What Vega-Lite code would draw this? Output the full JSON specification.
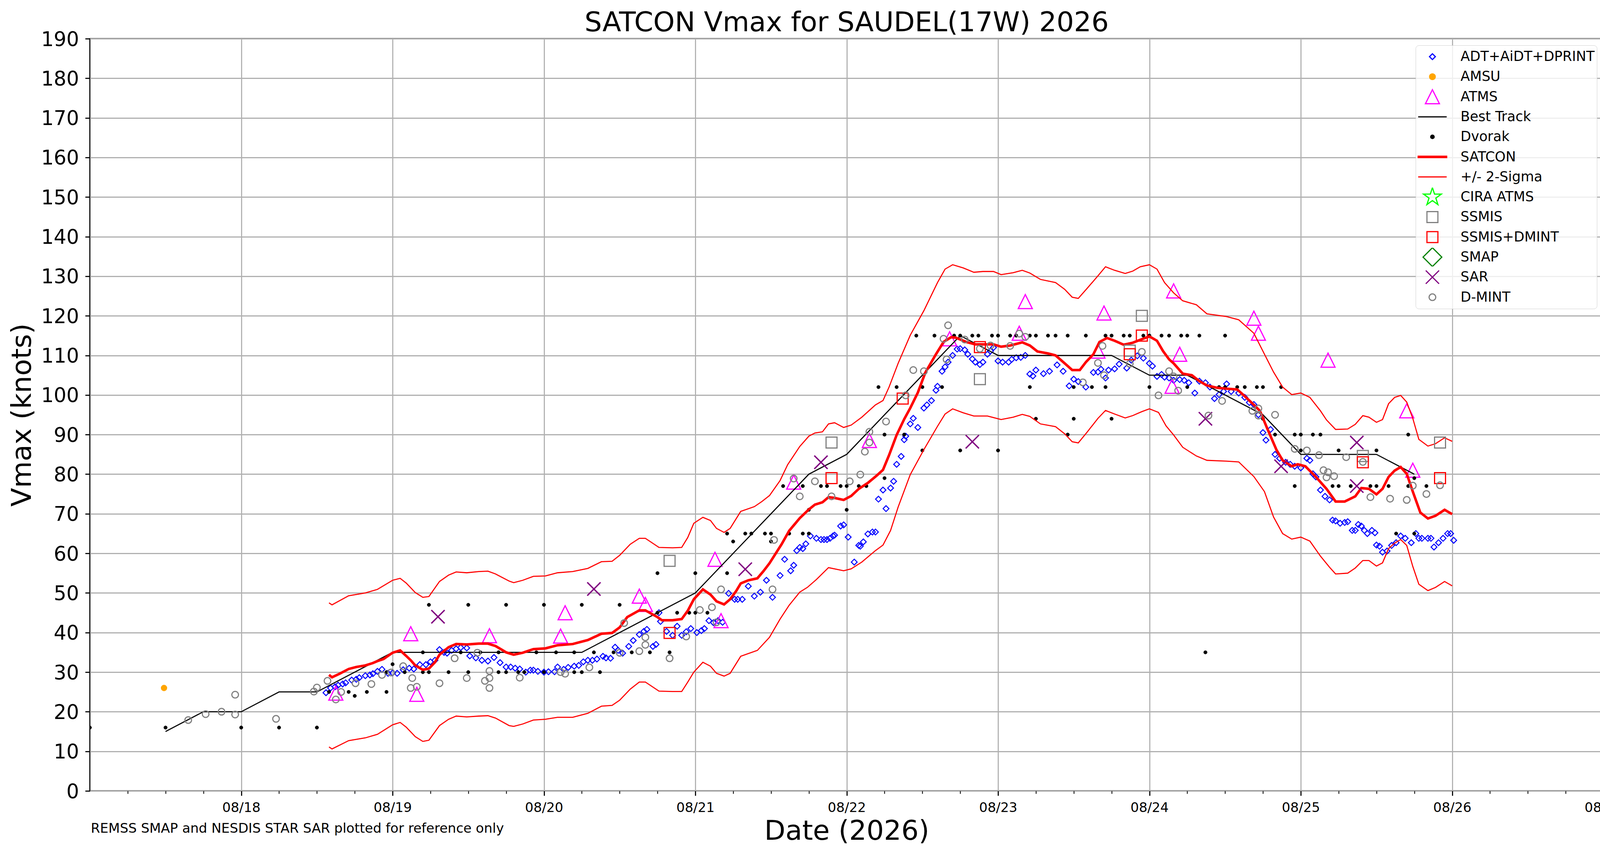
{
  "$schema": "https://vega.github.io/schema/vega-lite/v6.json",
  "width": 3875,
  "height": 1925,
  "autosize": {"type": "none"},
  "padding": {"left": 230, "top": 99, "right": 74, "bottom": 164},
  "background": "white",
  "title": {
    "text": "SATCON Vmax for SAUDEL(17W) 2026",
    "font": "DejaVu Sans", "fontSize": 70, "fontWeight": "normal", "color": "#000000",
    "anchor": "middle", "frame": "group", "offset": 5, "dy": 24
  },
  "config": {
    "font": "DejaVu Sans",
    "view": {"stroke": "#000000", "strokeWidth": 2.8},
    "axis": {
      "domain": false, "grid": true, "gridColor": "#b0b0b0", "gridWidth": 2.8,
      "tickColor": "#000000", "tickWidth": 2.8, "tickSize": 12,
      "labelColor": "#000000", "labelFont": "DejaVu Sans",
      "titleFont": "DejaVu Sans", "titleFontWeight": "normal", "titleColor": "#000000", "titleFontSize": 70,
      "labelOverlap": false, "labelFlush": false, "labelBound": false
    },
    "axisX": {"labelFontSize": 34, "labelPadding": 14, "labelAlign": "center"},
    "axisY": {"labelFontSize": 51, "labelPadding": 16},
    "legend": {
      "orient": "top-right", "offset": 17, "padding": 5,
      "fillColor": "rgba(255,255,255,0.8)", "strokeColor": "#d0d0d0", "cornerRadius": 8,
      "labelFont": "DejaVu Sans", "labelFontSize": 35, "labelColor": "#000000", "labelOffset": 34, "labelLimit": 2000,
      "rowPadding": 3.3, "symbolSize": 5329, "symbolStrokeWidth": 3, "clipHeight": 48, "title": null
    }
  },
  "datasets": {
    "adt": [
      {"d":18.56,"v":24.8},{"d":18.59,"v":26},{"d":18.62,"v":26.3},{"d":18.64,"v":26.7},{"d":18.67,"v":27},{"d":18.69,"v":27.3},{"d":18.73,"v":28},{"d":18.76,"v":28.2},{"d":18.78,"v":28.6},{"d":18.82,"v":29.1},{"d":18.85,"v":29.3},{"d":18.87,"v":29.6},{"d":18.9,"v":30.2},{"d":18.93,"v":30.7},{"d":18.97,"v":29.7},{"d":19.0,"v":29.8},{"d":19.03,"v":29.7},{"d":19.07,"v":30.6},{"d":19.11,"v":31},{"d":19.14,"v":30.8},{"d":19.18,"v":31.9},{"d":19.22,"v":31.9},{"d":19.25,"v":32.6},{"d":19.28,"v":33},{"d":19.31,"v":35.7},{"d":19.34,"v":35},{"d":19.36,"v":34.8},{"d":19.39,"v":35.5},{"d":19.42,"v":35.9},{"d":19.45,"v":36.2},{"d":19.49,"v":36.1},{"d":19.51,"v":34.1},{"d":19.55,"v":33.6},{"d":19.59,"v":33},{"d":19.63,"v":32.8},{"d":19.67,"v":33.7},{"d":19.71,"v":32.4},{"d":19.75,"v":31.3},{"d":19.78,"v":31.3},{"d":19.81,"v":31},{"d":19.84,"v":30.8},{"d":19.88,"v":30},{"d":19.91,"v":30.5},{"d":19.93,"v":30.5},{"d":19.96,"v":30.2},{"d":20.0,"v":30},{"d":20.03,"v":30.1},{"d":20.07,"v":30.1},{"d":20.09,"v":31.3},{"d":20.13,"v":30.7},{"d":20.16,"v":31.2},{"d":20.2,"v":31.5},{"d":20.23,"v":31.7},{"d":20.26,"v":32.6},{"d":20.29,"v":33},{"d":20.32,"v":33},{"d":20.35,"v":33.3},{"d":20.39,"v":34},{"d":20.41,"v":33.6},{"d":20.44,"v":33.5},{"d":20.47,"v":36.3},{"d":20.49,"v":35.5},{"d":20.52,"v":34.8},{"d":20.56,"v":36.5},{"d":20.59,"v":38},{"d":20.63,"v":39.5},{"d":20.66,"v":40.3},{"d":20.68,"v":40.8},{"d":20.72,"v":36.5},{"d":20.74,"v":37},{"d":20.76,"v":45},{"d":20.77,"v":42.8},{"d":20.81,"v":40.3},{"d":20.85,"v":39.3},{"d":20.88,"v":41.6},{"d":20.91,"v":39.3},{"d":20.94,"v":40.2},{"d":20.97,"v":41},{"d":21.01,"v":40},{"d":21.04,"v":40.5},{"d":21.06,"v":41},{"d":21.09,"v":43},{"d":21.12,"v":42.5},{"d":21.15,"v":43},{"d":21.18,"v":42.6},{"d":21.22,"v":49.9},{"d":21.26,"v":48.4},{"d":21.28,"v":48.4},{"d":21.31,"v":48.4},{"d":21.35,"v":51.7},{"d":21.39,"v":49.2},{"d":21.43,"v":50.2},{"d":21.47,"v":53.2},{"d":21.51,"v":48.9},{"d":21.56,"v":54.4},{"d":21.59,"v":58.5},{"d":21.63,"v":55.6},{"d":21.65,"v":57},{"d":21.67,"v":60.7},{"d":21.69,"v":61.5},{"d":21.71,"v":61.2},{"d":21.73,"v":62.4},{"d":21.76,"v":64.4},{"d":21.8,"v":63.8},{"d":21.83,"v":63.5},{"d":21.85,"v":63.5},{"d":21.87,"v":63.5},{"d":21.89,"v":63.8},{"d":21.91,"v":64.4},{"d":21.92,"v":64.6},{"d":21.96,"v":66.9},{"d":21.98,"v":67.2},{"d":22.01,"v":64.1},{"d":22.05,"v":57.8},{"d":22.08,"v":62},{"d":22.09,"v":61.8},{"d":22.11,"v":62.9},{"d":22.14,"v":64.9},{"d":22.17,"v":65.4},{"d":22.19,"v":65.4},{"d":22.21,"v":73.7},{"d":22.24,"v":76},{"d":22.26,"v":71.3},{"d":22.29,"v":76.5},{"d":22.31,"v":78.2},{"d":22.33,"v":82.5},{"d":22.36,"v":84.5},{"d":22.38,"v":88.7},{"d":22.39,"v":89.6},{"d":22.42,"v":92.7},{"d":22.44,"v":94.1},{"d":22.47,"v":91.8},{"d":22.51,"v":96.7},{"d":22.53,"v":97.5},{"d":22.56,"v":98.6},{"d":22.59,"v":101.2},{"d":22.6,"v":102.2},{"d":22.63,"v":106},{"d":22.65,"v":107.1},{"d":22.67,"v":108.3},{"d":22.7,"v":110},{"d":22.73,"v":111.6},{"d":22.75,"v":111.7},{"d":22.78,"v":111.4},{"d":22.8,"v":110.3},{"d":22.83,"v":109.1},{"d":22.85,"v":108.3},{"d":22.88,"v":107.7},{"d":22.9,"v":108.3},{"d":22.93,"v":110.3},{"d":22.95,"v":111.1},{"d":22.97,"v":112},{"d":23.0,"v":108.6},{"d":23.03,"v":108.3},{"d":23.07,"v":108.3},{"d":23.09,"v":109},{"d":23.12,"v":109.4},{"d":23.15,"v":109.5},{"d":23.18,"v":110},{"d":23.21,"v":105.3},{"d":23.23,"v":104.8},{"d":23.25,"v":106.3},{"d":23.3,"v":105.4},{"d":23.34,"v":106},{"d":23.39,"v":107.6},{"d":23.43,"v":106},{"d":23.47,"v":102.3},{"d":23.5,"v":104},{"d":23.53,"v":103.4},{"d":23.58,"v":102},{"d":23.63,"v":105.7},{"d":23.66,"v":105.8},{"d":23.68,"v":106.5},{"d":23.71,"v":104.3},{"d":23.73,"v":106.3},{"d":23.77,"v":106.6},{"d":23.8,"v":107.8},{"d":23.85,"v":106.8},{"d":23.88,"v":108.8},{"d":23.92,"v":109.9},{"d":23.96,"v":109.3},{"d":24.0,"v":108},{"d":24.02,"v":107.3},{"d":24.05,"v":104.7},{"d":24.08,"v":105.2},{"d":24.1,"v":104.5},{"d":24.13,"v":104.3},{"d":24.16,"v":103.7},{"d":24.2,"v":103.9},{"d":24.23,"v":103.7},{"d":24.26,"v":103.1},{"d":24.3,"v":100.5},{"d":24.33,"v":103.5},{"d":24.37,"v":103.1},{"d":24.4,"v":102},{"d":24.43,"v":99.1},{"d":24.46,"v":100.1},{"d":24.49,"v":100.9},{"d":24.51,"v":102.8},{"d":24.54,"v":100.9},{"d":24.59,"v":100.5},{"d":24.63,"v":99.4},{"d":24.66,"v":98.1},{"d":24.69,"v":97.6},{"d":24.72,"v":95},{"d":24.75,"v":90.5},{"d":24.77,"v":88.6},{"d":24.8,"v":91.3},{"d":24.83,"v":85},{"d":24.86,"v":84},{"d":24.9,"v":83},{"d":24.93,"v":82.5},{"d":24.96,"v":82},{"d":25.0,"v":81.6},{"d":25.04,"v":84},{"d":25.06,"v":83.5},{"d":25.08,"v":80.1},{"d":25.1,"v":79.3},{"d":25.13,"v":76},{"d":25.16,"v":74.4},{"d":25.19,"v":73.5},{"d":25.21,"v":68.4},{"d":25.23,"v":68.2},{"d":25.26,"v":67.6},{"d":25.29,"v":67.8},{"d":25.31,"v":68},{"d":25.34,"v":65.8},{"d":25.36,"v":65.8},{"d":25.38,"v":67.3},{"d":25.4,"v":66.9},{"d":25.42,"v":65.8},{"d":25.44,"v":65},{"d":25.47,"v":65.8},{"d":25.49,"v":65.2},{"d":25.5,"v":62.1},{"d":25.52,"v":61.8},{"d":25.54,"v":60.3},{"d":25.57,"v":60.6},{"d":25.6,"v":62},{"d":25.63,"v":62.7},{"d":25.66,"v":64.4},{"d":25.69,"v":63.8},{"d":25.73,"v":62.7},{"d":25.76,"v":65},{"d":25.78,"v":63.8},{"d":25.8,"v":63.8},{"d":25.84,"v":63.8},{"d":25.86,"v":63.8},{"d":25.88,"v":61.6},{"d":25.91,"v":62.7},{"d":25.94,"v":63.8},{"d":25.97,"v":65},{"d":25.99,"v":65},{"d":26.01,"v":63.3}
    ],
    "amsu": [{"d":17.49,"v":26}],
    "atms": [
      {"d":18.625,"v":24.7},{"d":19.12,"v":39.7},{"d":19.16,"v":24.4},{"d":19.64,"v":39.2},{"d":20.11,"v":39.1},{"d":20.14,"v":45},{"d":20.63,"v":49.2},{"d":20.67,"v":47.1},{"d":21.13,"v":58.5},{"d":21.17,"v":43},{"d":21.65,"v":78},{"d":22.15,"v":88.5},{"d":22.68,"v":114.2},{"d":23.14,"v":115.6},{"d":23.18,"v":123.6},{"d":23.66,"v":111.1},{"d":23.7,"v":120.7},{"d":24.15,"v":102.2},{"d":24.16,"v":126.3},{"d":24.2,"v":110.3},{"d":24.69,"v":119.4},{"d":24.72,"v":115.6},{"d":25.18,"v":108.8},{"d":25.7,"v":96},{"d":25.74,"v":81}
    ],
    "best": [
      {"d":17.5,"v":15},{"d":17.75,"v":20},{"d":18.0,"v":20},{"d":18.25,"v":25},{"d":18.5,"v":25},{"d":18.75,"v":30},{"d":19.0,"v":35},{"d":19.25,"v":35},{"d":19.5,"v":35},{"d":19.75,"v":35},{"d":20.0,"v":35},{"d":20.25,"v":35},{"d":20.5,"v":40},{"d":20.75,"v":45},{"d":21.0,"v":50},{"d":21.25,"v":60},{"d":21.5,"v":70},{"d":21.75,"v":80},{"d":22.0,"v":85},{"d":22.25,"v":95},{"d":22.5,"v":105},{"d":22.75,"v":115},{"d":23.0,"v":110},{"d":23.25,"v":110},{"d":23.5,"v":110},{"d":23.75,"v":110},{"d":24.0,"v":105},{"d":24.25,"v":105},{"d":24.5,"v":100},{"d":24.75,"v":95},{"d":25.0,"v":85},{"d":25.25,"v":85},{"d":25.5,"v":85},{"d":25.75,"v":80}
    ],
    "dvorak": [
      {"d":17.0,"v":16},{"d":17.5,"v":16},{"d":18.0,"v":16},{"d":18.25,"v":16},{"d":18.5,"v":16},{"d":18.58,"v":25},{"d":18.71,"v":25},{"d":18.75,"v":24},{"d":18.83,"v":25},{"d":18.96,"v":25},{"d":18.96,"v":30},{"d":19.0,"v":32},{"d":19.08,"v":30},{"d":19.2,"v":30},{"d":19.2,"v":35},{"d":19.24,"v":30},{"d":19.24,"v":47},{"d":19.37,"v":30},{"d":19.45,"v":35},{"d":19.5,"v":30},{"d":19.5,"v":47},{"d":19.58,"v":35},{"d":19.7,"v":35},{"d":19.7,"v":30},{"d":19.75,"v":30},{"d":19.75,"v":47},{"d":19.83,"v":30},{"d":19.87,"v":30},{"d":19.95,"v":35},{"d":20.0,"v":47},{"d":20.0,"v":30},{"d":20.08,"v":35},{"d":20.2,"v":35},{"d":20.2,"v":30},{"d":20.25,"v":30},{"d":20.25,"v":47},{"d":20.33,"v":35},{"d":20.37,"v":30},{"d":20.46,"v":35},{"d":20.5,"v":47},{"d":20.58,"v":35},{"d":20.7,"v":35},{"d":20.75,"v":55},{"d":20.75,"v":45},{"d":20.83,"v":35},{"d":20.88,"v":45},{"d":20.96,"v":45},{"d":21.0,"v":55},{"d":21.0,"v":45},{"d":21.08,"v":45},{"d":21.21,"v":55},{"d":21.21,"v":65},{"d":21.25,"v":63},{"d":21.33,"v":65},{"d":21.37,"v":65},{"d":21.46,"v":65},{"d":21.5,"v":65},{"d":21.5,"v":63},{"d":21.58,"v":77},{"d":21.62,"v":65},{"d":21.71,"v":65},{"d":21.71,"v":77},{"d":21.75,"v":65},{"d":21.75,"v":71},{"d":21.83,"v":77},{"d":21.87,"v":77},{"d":21.96,"v":77},{"d":22.0,"v":77},{"d":22.0,"v":71},{"d":22.08,"v":77},{"d":22.13,"v":77},{"d":22.21,"v":102},{"d":22.25,"v":90},{"d":22.25,"v":79},{"d":22.33,"v":102},{"d":22.38,"v":90},{"d":22.46,"v":115},{"d":22.5,"v":102},{"d":22.5,"v":86},{"d":22.58,"v":115},{"d":22.63,"v":102},{"d":22.71,"v":115},{"d":22.75,"v":115},{"d":22.75,"v":86},{"d":22.83,"v":115},{"d":22.87,"v":115},{"d":22.96,"v":115},{"d":23.0,"v":115},{"d":23.0,"v":86},{"d":23.08,"v":115},{"d":23.12,"v":115},{"d":23.21,"v":115},{"d":23.21,"v":102},{"d":23.25,"v":115},{"d":23.25,"v":94},{"d":23.33,"v":115},{"d":23.38,"v":115},{"d":23.46,"v":115},{"d":23.46,"v":90},{"d":23.5,"v":102},{"d":23.5,"v":94},{"d":23.58,"v":115},{"d":23.62,"v":102},{"d":23.71,"v":115},{"d":23.71,"v":102},{"d":23.75,"v":115},{"d":23.75,"v":94},{"d":23.83,"v":115},{"d":23.87,"v":115},{"d":23.96,"v":115},{"d":24.0,"v":115},{"d":24.0,"v":102},{"d":24.08,"v":115},{"d":24.13,"v":115},{"d":24.21,"v":115},{"d":24.25,"v":115},{"d":24.25,"v":102},{"d":24.33,"v":115},{"d":24.37,"v":35},{"d":24.46,"v":102},{"d":24.5,"v":115},{"d":24.5,"v":102},{"d":24.58,"v":102},{"d":24.63,"v":102},{"d":24.71,"v":102},{"d":24.75,"v":102},{"d":24.75,"v":94},{"d":24.83,"v":90},{"d":24.87,"v":102},{"d":24.96,"v":90},{"d":24.96,"v":77},{"d":25.0,"v":90},{"d":25.0,"v":86},{"d":25.08,"v":90},{"d":25.13,"v":90},{"d":25.21,"v":77},{"d":25.25,"v":86},{"d":25.25,"v":77},{"d":25.33,"v":77},{"d":25.46,"v":77},{"d":25.5,"v":86},{"d":25.5,"v":77},{"d":25.58,"v":77},{"d":25.63,"v":65},{"d":25.71,"v":90},{"d":25.71,"v":77},{"d":25.75,"v":79},{"d":25.75,"v":65},{"d":25.83,"v":77}
    ],
    "satcon": [
      {"d":18.58,"v":29.3},{"d":18.6,"v":28.7},{"d":18.65,"v":29.6},{"d":18.71,"v":30.8},{"d":18.76,"v":31.3},{"d":18.82,"v":31.7},{"d":18.87,"v":32.3},{"d":18.9,"v":32.8},{"d":18.94,"v":33.3},{"d":19.0,"v":34.9},{"d":19.05,"v":35.5},{"d":19.09,"v":34.1},{"d":19.12,"v":33},{"d":19.15,"v":31.7},{"d":19.2,"v":30.6},{"d":19.24,"v":30.9},{"d":19.28,"v":32.5},{"d":19.31,"v":34.4},{"d":19.37,"v":36.3},{"d":19.42,"v":37.1},{"d":19.49,"v":37},{"d":19.57,"v":37.2},{"d":19.63,"v":37.2},{"d":19.68,"v":36.6},{"d":19.75,"v":35},{"d":19.8,"v":34.4},{"d":19.86,"v":34.9},{"d":19.93,"v":35.8},{"d":20.01,"v":36},{"d":20.09,"v":36.8},{"d":20.19,"v":37.1},{"d":20.29,"v":38.1},{"d":20.38,"v":39.7},{"d":20.45,"v":39.9},{"d":20.5,"v":41.3},{"d":20.55,"v":43.9},{"d":20.63,"v":45.6},{"d":20.67,"v":45.6},{"d":20.75,"v":43.9},{"d":20.78,"v":43.1},{"d":20.85,"v":43.1},{"d":20.91,"v":43.4},{"d":20.95,"v":45.5},{"d":20.99,"v":48.4},{"d":21.05,"v":50.9},{"d":21.1,"v":49.6},{"d":21.14,"v":47.9},{"d":21.19,"v":47.1},{"d":21.23,"v":48.4},{"d":21.27,"v":50.5},{"d":21.3,"v":52.4},{"d":21.35,"v":53.2},{"d":21.41,"v":53.7},{"d":21.45,"v":55.5},{"d":21.49,"v":57.5},{"d":21.54,"v":60.5},{"d":21.57,"v":62.3},{"d":21.62,"v":65.7},{"d":21.69,"v":68.9},{"d":21.75,"v":71.1},{"d":21.79,"v":72.3},{"d":21.84,"v":72.9},{"d":21.88,"v":74.2},{"d":21.92,"v":74},{"d":21.98,"v":73.5},{"d":22.03,"v":74.5},{"d":22.08,"v":76.3},{"d":22.14,"v":77.8},{"d":22.2,"v":79.7},{"d":22.24,"v":81.1},{"d":22.28,"v":84.8},{"d":22.33,"v":89.9},{"d":22.38,"v":93.9},{"d":22.42,"v":96.7},{"d":22.47,"v":100.6},{"d":22.52,"v":105.7},{"d":22.59,"v":110.3},{"d":22.64,"v":113.4},{"d":22.69,"v":114.6},{"d":22.72,"v":114.5},{"d":22.79,"v":113.4},{"d":22.85,"v":112.8},{"d":22.92,"v":112.8},{"d":22.97,"v":112.8},{"d":23.02,"v":112.2},{"d":23.08,"v":112.5},{"d":23.16,"v":113.3},{"d":23.21,"v":112.5},{"d":23.26,"v":111},{"d":23.33,"v":110.5},{"d":23.38,"v":110},{"d":23.44,"v":108},{"d":23.49,"v":106.3},{"d":23.54,"v":106.3},{"d":23.58,"v":108.3},{"d":23.63,"v":110.3},{"d":23.67,"v":113.4},{"d":23.72,"v":114.4},{"d":23.77,"v":113.7},{"d":23.83,"v":112.7},{"d":23.89,"v":113.2},{"d":23.95,"v":114.1},{"d":24.0,"v":114.8},{"d":24.05,"v":113.7},{"d":24.09,"v":111.1},{"d":24.13,"v":109},{"d":24.16,"v":108},{"d":24.22,"v":105.4},{"d":24.28,"v":105},{"d":24.33,"v":103.5},{"d":24.38,"v":102.4},{"d":24.45,"v":101.8},{"d":24.51,"v":101.6},{"d":24.58,"v":101.4},{"d":24.63,"v":99.7},{"d":24.69,"v":97.5},{"d":24.73,"v":96},{"d":24.78,"v":91.4},{"d":24.84,"v":86.1},{"d":24.88,"v":83.5},{"d":24.94,"v":82},{"d":24.98,"v":82.5},{"d":25.03,"v":82},{"d":25.1,"v":79.3},{"d":25.17,"v":76.3},{"d":25.23,"v":73.1},{"d":25.29,"v":73.1},{"d":25.36,"v":74.4},{"d":25.4,"v":76.5},{"d":25.45,"v":76.3},{"d":25.5,"v":74.9},{"d":25.54,"v":76.3},{"d":25.58,"v":79.3},{"d":25.62,"v":80.9},{"d":25.66,"v":81.8},{"d":25.7,"v":80.1},{"d":25.74,"v":75.6},{"d":25.79,"v":70.3},{"d":25.84,"v":68.8},{"d":25.89,"v":69.5},{"d":25.95,"v":71},{"d":26.0,"v":69.9}
    ],
    "sigma": [
      {"side":"hi","d":18.58,"v":47.5},{"side":"hi","d":18.6,"v":47},{"side":"hi","d":18.71,"v":49.3},{"side":"hi","d":18.82,"v":50},{"side":"hi","d":18.9,"v":50.9},{"side":"hi","d":19.0,"v":53.2},{"side":"hi","d":19.05,"v":53.7},{"side":"hi","d":19.09,"v":52.5},{"side":"hi","d":19.15,"v":50.1},{"side":"hi","d":19.2,"v":48.9},{"side":"hi","d":19.24,"v":49.1},{"side":"hi","d":19.31,"v":52.9},{"side":"hi","d":19.37,"v":54.5},{"side":"hi","d":19.42,"v":55.3},{"side":"hi","d":19.49,"v":55.1},{"side":"hi","d":19.57,"v":55.4},{"side":"hi","d":19.63,"v":55.5},{"side":"hi","d":19.68,"v":54.8},{"side":"hi","d":19.77,"v":53},{"side":"hi","d":19.8,"v":52.6},{"side":"hi","d":19.86,"v":53.2},{"side":"hi","d":19.93,"v":54.2},{"side":"hi","d":20.01,"v":54.3},{"side":"hi","d":20.09,"v":55.1},{"side":"hi","d":20.19,"v":55.4},{"side":"hi","d":20.29,"v":56.2},{"side":"hi","d":20.38,"v":57.9},{"side":"hi","d":20.45,"v":58},{"side":"hi","d":20.5,"v":59.5},{"side":"hi","d":20.57,"v":62.3},{"side":"hi","d":20.63,"v":63.8},{"side":"hi","d":20.67,"v":63.8},{"side":"hi","d":20.76,"v":61.5},{"side":"hi","d":20.85,"v":61.4},{"side":"hi","d":20.91,"v":61.5},{"side":"hi","d":20.95,"v":64},{"side":"hi","d":20.99,"v":67.6},{"side":"hi","d":21.05,"v":69.1},{"side":"hi","d":21.1,"v":68.3},{"side":"hi","d":21.14,"v":66.3},{"side":"hi","d":21.19,"v":65.3},{"side":"hi","d":21.23,"v":66.3},{"side":"hi","d":21.3,"v":70.6},{"side":"hi","d":21.39,"v":71.8},{"side":"hi","d":21.44,"v":73.1},{"side":"hi","d":21.49,"v":74.6},{"side":"hi","d":21.56,"v":78.4},{"side":"hi","d":21.61,"v":82.4},{"side":"hi","d":21.69,"v":87},{"side":"hi","d":21.75,"v":89.6},{"side":"hi","d":21.79,"v":90.4},{"side":"hi","d":21.84,"v":90.7},{"side":"hi","d":21.88,"v":92.7},{"side":"hi","d":21.92,"v":93},{"side":"hi","d":21.98,"v":91.8},{"side":"hi","d":22.03,"v":92.4},{"side":"hi","d":22.1,"v":94.4},{"side":"hi","d":22.19,"v":97.5},{"side":"hi","d":22.24,"v":98.6},{"side":"hi","d":22.28,"v":102},{"side":"hi","d":22.34,"v":108},{"side":"hi","d":22.42,"v":115.1},{"side":"hi","d":22.51,"v":121.3},{"side":"hi","d":22.6,"v":128.4},{"side":"hi","d":22.65,"v":131.8},{"side":"hi","d":22.7,"v":132.9},{"side":"hi","d":22.77,"v":132.1},{"side":"hi","d":22.84,"v":131},{"side":"hi","d":22.9,"v":131.2},{"side":"hi","d":22.97,"v":131.2},{"side":"hi","d":23.02,"v":130.4},{"side":"hi","d":23.1,"v":130.9},{"side":"hi","d":23.16,"v":131.5},{"side":"hi","d":23.21,"v":130.8},{"side":"hi","d":23.28,"v":129.2},{"side":"hi","d":23.38,"v":128.4},{"side":"hi","d":23.44,"v":126.7},{"side":"hi","d":23.49,"v":124.7},{"side":"hi","d":23.53,"v":124.4},{"side":"hi","d":23.59,"v":127},{"side":"hi","d":23.66,"v":130.1},{"side":"hi","d":23.71,"v":132.4},{"side":"hi","d":23.77,"v":131.5},{"side":"hi","d":23.84,"v":130.7},{"side":"hi","d":23.89,"v":131.3},{"side":"hi","d":23.94,"v":132.4},{"side":"hi","d":24.0,"v":132.9},{"side":"hi","d":24.05,"v":131.8},{"side":"hi","d":24.1,"v":128.4},{"side":"hi","d":24.16,"v":125.8},{"side":"hi","d":24.22,"v":123.8},{"side":"hi","d":24.31,"v":122.8},{"side":"hi","d":24.38,"v":120.5},{"side":"hi","d":24.51,"v":119.8},{"side":"hi","d":24.59,"v":119},{"side":"hi","d":24.69,"v":115.6},{"side":"hi","d":24.76,"v":110.3},{"side":"hi","d":24.82,"v":105.8},{"side":"hi","d":24.88,"v":102},{"side":"hi","d":24.94,"v":100.1},{"side":"hi","d":25.0,"v":100.5},{"side":"hi","d":25.06,"v":99.4},{"side":"hi","d":25.13,"v":96},{"side":"hi","d":25.17,"v":93.7},{"side":"hi","d":25.23,"v":91.3},{"side":"hi","d":25.31,"v":91.4},{"side":"hi","d":25.36,"v":92.6},{"side":"hi","d":25.41,"v":94.8},{"side":"hi","d":25.45,"v":94.4},{"side":"hi","d":25.5,"v":93.1},{"side":"hi","d":25.54,"v":93.8},{"side":"hi","d":25.58,"v":97.8},{"side":"hi","d":25.62,"v":99.4},{"side":"hi","d":25.66,"v":99.9},{"side":"hi","d":25.7,"v":98.2},{"side":"hi","d":25.74,"v":94.1},{"side":"hi","d":25.78,"v":88.8},{"side":"hi","d":25.84,"v":87.1},{"side":"hi","d":25.89,"v":87.7},{"side":"hi","d":25.95,"v":89.2},{"side":"hi","d":26.0,"v":88.3},
      {"side":"lo","d":18.58,"v":11.1},{"side":"lo","d":18.6,"v":10.6},{"side":"lo","d":18.71,"v":12.7},{"side":"lo","d":18.82,"v":13.4},{"side":"lo","d":18.9,"v":14.3},{"side":"lo","d":19.0,"v":16.7},{"side":"lo","d":19.05,"v":17.3},{"side":"lo","d":19.09,"v":16.1},{"side":"lo","d":19.15,"v":13.7},{"side":"lo","d":19.2,"v":12.5},{"side":"lo","d":19.24,"v":12.8},{"side":"lo","d":19.31,"v":16.5},{"side":"lo","d":19.37,"v":18.1},{"side":"lo","d":19.42,"v":18.9},{"side":"lo","d":19.49,"v":18.7},{"side":"lo","d":19.57,"v":18.9},{"side":"lo","d":19.63,"v":19},{"side":"lo","d":19.68,"v":18.4},{"side":"lo","d":19.77,"v":16.5},{"side":"lo","d":19.8,"v":16.3},{"side":"lo","d":19.86,"v":16.9},{"side":"lo","d":19.93,"v":17.9},{"side":"lo","d":20.01,"v":18.1},{"side":"lo","d":20.09,"v":18.6},{"side":"lo","d":20.19,"v":18.6},{"side":"lo","d":20.29,"v":19.6},{"side":"lo","d":20.38,"v":21.4},{"side":"lo","d":20.45,"v":21.6},{"side":"lo","d":20.5,"v":22.9},{"side":"lo","d":20.57,"v":25.7},{"side":"lo","d":20.63,"v":27.5},{"side":"lo","d":20.67,"v":27.5},{"side":"lo","d":20.76,"v":25.2},{"side":"lo","d":20.85,"v":25.1},{"side":"lo","d":20.91,"v":25.1},{"side":"lo","d":20.95,"v":27.5},{"side":"lo","d":20.99,"v":30},{"side":"lo","d":21.05,"v":32.5},{"side":"lo","d":21.1,"v":31.5},{"side":"lo","d":21.14,"v":29.7},{"side":"lo","d":21.19,"v":29},{"side":"lo","d":21.23,"v":29.7},{"side":"lo","d":21.3,"v":34},{"side":"lo","d":21.41,"v":35.5},{"side":"lo","d":21.49,"v":38.8},{"side":"lo","d":21.56,"v":43.4},{"side":"lo","d":21.62,"v":46.9},{"side":"lo","d":21.69,"v":50.2},{"side":"lo","d":21.74,"v":51.4},{"side":"lo","d":21.8,"v":53.4},{"side":"lo","d":21.88,"v":56.4},{"side":"lo","d":21.98,"v":55.6},{"side":"lo","d":22.03,"v":56.1},{"side":"lo","d":22.1,"v":57.8},{"side":"lo","d":22.19,"v":60.7},{"side":"lo","d":22.24,"v":62.1},{"side":"lo","d":22.29,"v":65.8},{"side":"lo","d":22.34,"v":71.7},{"side":"lo","d":22.42,"v":79.9},{"side":"lo","d":22.51,"v":86.2},{"side":"lo","d":22.6,"v":92.1},{"side":"lo","d":22.65,"v":95.2},{"side":"lo","d":22.7,"v":96.5},{"side":"lo","d":22.77,"v":95.5},{"side":"lo","d":22.84,"v":94.7},{"side":"lo","d":22.93,"v":94.7},{"side":"lo","d":23.02,"v":93.8},{"side":"lo","d":23.1,"v":94.4},{"side":"lo","d":23.16,"v":95.1},{"side":"lo","d":23.21,"v":94.6},{"side":"lo","d":23.28,"v":92.7},{"side":"lo","d":23.38,"v":92},{"side":"lo","d":23.44,"v":90.2},{"side":"lo","d":23.49,"v":88.2},{"side":"lo","d":23.53,"v":87.9},{"side":"lo","d":23.59,"v":90.7},{"side":"lo","d":23.66,"v":94.1},{"side":"lo","d":23.71,"v":96.1},{"side":"lo","d":23.77,"v":95.2},{"side":"lo","d":23.84,"v":94.2},{"side":"lo","d":23.89,"v":94.8},{"side":"lo","d":23.95,"v":95.8},{"side":"lo","d":24.0,"v":96.5},{"side":"lo","d":24.06,"v":95.6},{"side":"lo","d":24.11,"v":92.2},{"side":"lo","d":24.16,"v":89.9},{"side":"lo","d":24.22,"v":86.8},{"side":"lo","d":24.31,"v":84.6},{"side":"lo","d":24.38,"v":83.5},{"side":"lo","d":24.51,"v":83.3},{"side":"lo","d":24.59,"v":83.1},{"side":"lo","d":24.69,"v":79.4},{"side":"lo","d":24.76,"v":75.6},{"side":"lo","d":24.82,"v":69.2},{"side":"lo","d":24.88,"v":65},{"side":"lo","d":24.94,"v":63.6},{"side":"lo","d":25.0,"v":64.1},{"side":"lo","d":25.06,"v":63.1},{"side":"lo","d":25.13,"v":59.3},{"side":"lo","d":25.19,"v":56.5},{"side":"lo","d":25.23,"v":54.8},{"side":"lo","d":25.31,"v":55},{"side":"lo","d":25.36,"v":56.3},{"side":"lo","d":25.41,"v":58.2},{"side":"lo","d":25.45,"v":58.2},{"side":"lo","d":25.5,"v":56.8},{"side":"lo","d":25.54,"v":57.6},{"side":"lo","d":25.58,"v":61.2},{"side":"lo","d":25.62,"v":62.6},{"side":"lo","d":25.66,"v":63.5},{"side":"lo","d":25.7,"v":62},{"side":"lo","d":25.74,"v":56.7},{"side":"lo","d":25.78,"v":52.2},{"side":"lo","d":25.84,"v":50.6},{"side":"lo","d":25.89,"v":51.4},{"side":"lo","d":25.95,"v":52.9},{"side":"lo","d":26.0,"v":51.8}
    ],
    "ssmis": [
      {"d":20.83,"v":58.1},{"d":21.9,"v":88},{"d":22.88,"v":104},{"d":23.87,"v":111.2},{"d":23.95,"v":120},{"d":25.41,"v":84.6},{"d":25.92,"v":88}
    ],
    "ssmisdm": [
      {"d":20.83,"v":39.9},{"d":21.9,"v":79},{"d":22.37,"v":99.1},{"d":22.88,"v":112.1},{"d":23.87,"v":110.3},{"d":23.95,"v":115},{"d":25.41,"v":83},{"d":25.92,"v":79}
    ],
    "sar": [
      {"d":19.3,"v":44},{"d":20.33,"v":51},{"d":21.33,"v":56},{"d":21.83,"v":83},{"d":22.83,"v":88.2},{"d":24.37,"v":94},{"d":24.87,"v":82},{"d":25.37,"v":88},{"d":25.37,"v":77}
    ],
    "dmint": [
      {"d":17.65,"v":17.9},{"d":17.765,"v":19.4},{"d":17.87,"v":20},{"d":17.96,"v":24.3},{"d":17.96,"v":19.3},{"d":18.23,"v":18.2},{"d":18.48,"v":25.1},{"d":18.5,"v":26.1},{"d":18.57,"v":27.8},{"d":18.625,"v":23.1},{"d":18.66,"v":25},{"d":18.755,"v":27.2},{"d":18.86,"v":27},{"d":18.93,"v":29.3},{"d":18.99,"v":29.9},{"d":19.07,"v":31.5},{"d":19.13,"v":28.5},{"d":19.12,"v":26},{"d":19.16,"v":26.3},{"d":19.31,"v":27.2},{"d":19.41,"v":33.5},{"d":19.49,"v":28.5},{"d":19.56,"v":34.9},{"d":19.61,"v":27.8},{"d":19.64,"v":26},{"d":19.64,"v":28.5},{"d":19.64,"v":30.3},{"d":19.84,"v":28.6},{"d":20.11,"v":30},{"d":20.14,"v":29.6},{"d":20.3,"v":31.2},{"d":20.5,"v":34.9},{"d":20.53,"v":42.4},{"d":20.63,"v":35.3},{"d":20.67,"v":38.8},{"d":20.67,"v":36.9},{"d":20.83,"v":33.5},{"d":20.94,"v":39},{"d":21.03,"v":45.7},{"d":21.11,"v":46.4},{"d":21.14,"v":42.6},{"d":21.17,"v":50.9},{"d":21.51,"v":50.9},{"d":21.52,"v":63.4},{"d":21.65,"v":78.9},{"d":21.69,"v":74.4},{"d":21.79,"v":78.2},{"d":21.9,"v":74.4},{"d":22.02,"v":78.2},{"d":22.09,"v":79.9},{"d":22.12,"v":85.7},{"d":22.15,"v":88},{"d":22.15,"v":90.7},{"d":22.26,"v":93.3},{"d":22.39,"v":99.9},{"d":22.44,"v":106.3},{"d":22.51,"v":106},{"d":22.64,"v":114.2},{"d":22.66,"v":109},{"d":22.67,"v":117.6},{"d":22.78,"v":114},{"d":22.88,"v":111.7},{"d":22.95,"v":112.5},{"d":23.08,"v":112.4},{"d":23.14,"v":115.5},{"d":23.18,"v":114.7},{"d":23.56,"v":103.2},{"d":23.66,"v":108.1},{"d":23.69,"v":112.4},{"d":23.7,"v":105},{"d":23.87,"v":107.9},{"d":23.95,"v":110.9},{"d":24.06,"v":99.9},{"d":24.13,"v":106},{"d":24.16,"v":104.7},{"d":24.19,"v":101.1},{"d":24.39,"v":94.8},{"d":24.48,"v":98.5},{"d":24.68,"v":96},{"d":24.72,"v":96.6},{"d":24.72,"v":94.8},{"d":24.83,"v":95},{"d":24.96,"v":86.4},{"d":25.04,"v":86},{"d":25.12,"v":84.8},{"d":25.15,"v":81},{"d":25.17,"v":79.2},{"d":25.18,"v":80.5},{"d":25.22,"v":79.5},{"d":25.3,"v":84.3},{"d":25.41,"v":83.1},{"d":25.46,"v":74.2},{"d":25.59,"v":73.8},{"d":25.7,"v":73.5},{"d":25.74,"v":77.1},{"d":25.83,"v":75},{"d":25.92,"v":77.2}
    ]
  },
  "resolve": {"axis": {"x": "independent"}},
  "layer": [
    {
      "encoding": {
        "x": {
          "field": "d", "type": "quantitative",
          "scale": {"domain": [17, 27], "nice": false, "zero": false},
          "axis": {
            "orient": "bottom", "values": [18, 19, 20, 21, 22, 23, 24, 25, 26, 27],
            "labelExpr": "'08/' + datum.value", "labelAlign": "center", "labelFlush": false,
            "title": "Date (2026)", "titleX": 1937.5, "titleY": 124,
            "titleBaseline": "alphabetic", "titleAlign": "center"
          }
        },
        "y": {
          "field": "v", "type": "quantitative",
          "scale": {"domain": [0, 190], "nice": false},
          "axis": {
            "values": [0, 10, 20, 30, 40, 50, 60, 70, 80, 90, 100, 110, 120, 130, 140, 150, 160, 170, 180, 190],
            "labelOffset": 3,
            "title": "Vmax (knots)", "titleX": -152, "titleY": 962.5, "titleAngle": 270,
            "titleBaseline": "alphabetic", "titleAlign": "center"
          }
        }
      },
      "layer": [
        {
          "data": {"name": "adt"},
          "mark": {"type": "point", "filled": true, "size": 5329, "strokeWidth": 2.5, "opacity": 1},
          "encoding": {
            "shape": {
              "datum": "ADT+AiDT+DPRINT", "type": "nominal",
              "scale": {
                "domain": ["ADT+AiDT+DPRINT", "AMSU", "ATMS", "Best Track", "Dvorak", "SATCON", "+/- 2-Sigma", "CIRA ATMS", "SSMIS", "SSMIS+DMINT", "SMAP", "SAR", "D-MINT"],
                "range": [
                  "M0,-0.205L0.205,0L0,0.205L-0.205,0Z",
                  "M-0.2,0A0.2,0.2,0,1,0,0.2,0A0.2,0.2,0,1,0,-0.2,0Z",
                  "M0,-0.493L0.493,0.493L-0.493,0.493Z",
                  "stroke",
                  "M-0.12,0A0.12,0.12,0,1,0,0.12,0A0.12,0.12,0,1,0,-0.12,0Z",
                  "M-1,-0.045L1,-0.045L1,0.045L-1,0.045Z",
                  "stroke",
                  "M0,-0.657L0.1475,-0.203L0.625,-0.203L0.2385,0.0775L0.386,0.5315L0,0.251L-0.386,0.5315L-0.2385,0.0775L-0.625,-0.203L-0.1475,-0.203Z",
                  "M-0.384,-0.384L0.384,-0.384L0.384,0.384L-0.384,0.384Z",
                  "M-0.384,-0.384L0.384,-0.384L0.384,0.384L-0.384,0.384Z",
                  "M0,-0.657L0.657,0L0,0.657L-0.657,0Z",
                  "M-0.466,-0.466L0.466,0.466M-0.466,0.466L0.466,-0.466",
                  "M-0.233,0A0.233,0.233,0,1,0,0.233,0A0.233,0.233,0,1,0,-0.233,0Z"
                ]
              }
            },
            "fill": {
              "datum": "ADT+AiDT+DPRINT", "type": "nominal",
              "scale": {
                "domain": ["ADT+AiDT+DPRINT", "AMSU", "ATMS", "Best Track", "Dvorak", "SATCON", "+/- 2-Sigma", "CIRA ATMS", "SSMIS", "SSMIS+DMINT", "SMAP", "SAR", "D-MINT"],
                "range": ["transparent", "#ffa500", "transparent", "transparent", "#000000", "#ff0000", "transparent", "transparent", "transparent", "transparent", "transparent", "transparent", "transparent"]
              }
            },
            "stroke": {
              "datum": "ADT+AiDT+DPRINT", "type": "nominal",
              "scale": {
                "domain": ["ADT+AiDT+DPRINT", "AMSU", "ATMS", "Best Track", "Dvorak", "SATCON", "+/- 2-Sigma", "CIRA ATMS", "SSMIS", "SSMIS+DMINT", "SMAP", "SAR", "D-MINT"],
                "range": ["#0000ff", "#ffa500", "#ff00ff", "#000000", "#000000", "#ff0000", "#ff0000", "#00ff00", "#808080", "#ff0000", "#008000", "#800080", "#808080"]
              }
            }
          }
        },
        {
          "data": {"name": "atms"},
          "mark": {"type": "point", "filled": true, "size": 5329, "strokeWidth": 3, "opacity": 1},
          "encoding": {
            "shape": {"datum": "ATMS", "type": "nominal"},
            "fill": {"datum": "ATMS", "type": "nominal"},
            "stroke": {"datum": "ATMS", "type": "nominal"}
          }
        },
        {
          "data": {"name": "best"},
          "mark": {"type": "line", "strokeWidth": 2.8},
          "encoding": {"stroke": {"datum": "Best Track", "type": "nominal"}}
        },
        {
          "data": {"name": "dvorak"},
          "mark": {"type": "point", "filled": true, "size": 5329, "strokeWidth": 1, "opacity": 1, "clip": true},
          "encoding": {
            "shape": {"datum": "Dvorak", "type": "nominal"},
            "fill": {"datum": "Dvorak", "type": "nominal"},
            "stroke": {"datum": "Dvorak", "type": "nominal"}
          }
        },
        {
          "data": {"name": "satcon"},
          "mark": {"type": "line", "strokeWidth": 6.5},
          "encoding": {"stroke": {"datum": "SATCON", "type": "nominal"}}
        },
        {
          "data": {"name": "sigma"},
          "mark": {"type": "line", "strokeWidth": 2.8},
          "encoding": {
            "detail": {"field": "side", "type": "nominal"},
            "stroke": {"datum": "+/- 2-Sigma", "type": "nominal"}
          }
        },
        {
          "data": {"name": "ssmis"},
          "mark": {"type": "point", "filled": true, "size": 5329, "strokeWidth": 3, "opacity": 1},
          "encoding": {
            "shape": {"datum": "SSMIS", "type": "nominal"},
            "fill": {"datum": "SSMIS", "type": "nominal"},
            "stroke": {"datum": "SSMIS", "type": "nominal"}
          }
        },
        {
          "data": {"name": "ssmisdm"},
          "mark": {"type": "point", "filled": true, "size": 5329, "strokeWidth": 3, "opacity": 1},
          "encoding": {
            "shape": {"datum": "SSMIS+DMINT", "type": "nominal"},
            "fill": {"datum": "SSMIS+DMINT", "type": "nominal"},
            "stroke": {"datum": "SSMIS+DMINT", "type": "nominal"}
          }
        },
        {
          "data": {"name": "sar"},
          "mark": {"type": "point", "filled": true, "size": 5329, "strokeWidth": 3.5, "opacity": 1},
          "encoding": {
            "shape": {"datum": "SAR", "type": "nominal"},
            "fill": {"datum": "SAR", "type": "nominal"},
            "stroke": {"datum": "SAR", "type": "nominal"}
          }
        },
        {
          "data": {"name": "dmint"},
          "mark": {"type": "point", "filled": true, "size": 5329, "strokeWidth": 3, "opacity": 1},
          "encoding": {
            "shape": {"datum": "D-MINT", "type": "nominal"},
            "fill": {"datum": "D-MINT", "type": "nominal"},
            "stroke": {"datum": "D-MINT", "type": "nominal"}
          }
        }
      ]
    },
    {
      "data": {"name": "amsu"},
      "mark": {"type": "point", "filled": true, "size": 5329, "strokeWidth": 1.5, "opacity": 1},
      "encoding": {
        "x": {
          "field": "d", "type": "quantitative",
          "scale": {"domain": [17, 27], "nice": false, "zero": false},
          "axis": {
            "orient": "bottom",
            "values": [17.25, 17.5, 17.75, 18.25, 18.5, 18.75, 19.25, 19.5, 19.75, 20.25, 20.5, 20.75, 21.25, 21.5, 21.75, 22.25, 22.5, 22.75, 23.25, 23.5, 23.75, 24.25, 24.5, 24.75, 25.25, 25.5, 25.75, 26.25, 26.5, 26.75],
            "labels": false, "grid": false, "tickSize": 7, "tickWidth": 2.1,
            "title": "REMSS SMAP and NESDIS STAR SAR plotted for reference only",
            "titleFontSize": 34, "titleX": 2, "titleY": 106,
            "titleAlign": "left", "titleBaseline": "alphabetic"
          }
        },
        "y": {"field": "v", "type": "quantitative", "scale": {"domain": [0, 190], "nice": false}, "title": "Vmax (knots)"},
        "shape": {"datum": "AMSU", "type": "nominal"},
        "fill": {"datum": "AMSU", "type": "nominal"},
        "stroke": {"datum": "AMSU", "type": "nominal"}
      }
    }
  ]
}
